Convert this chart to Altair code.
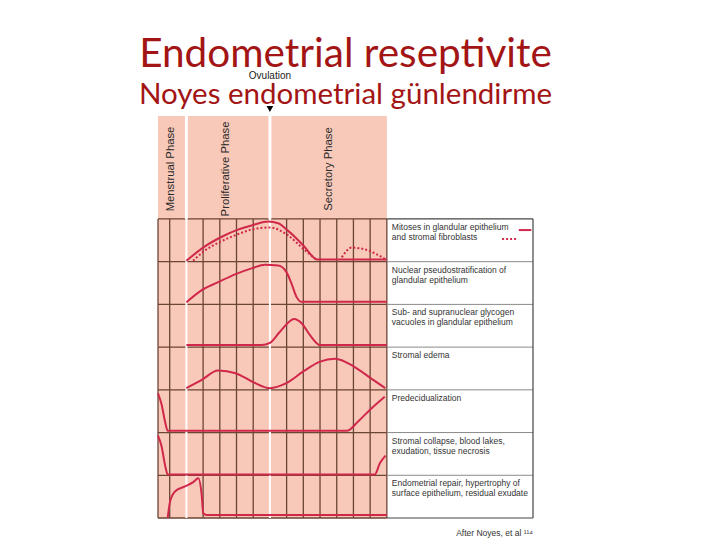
import altair as alt
import pandas as pd

# ---------------- data ----------------
PHASE_NAMES = ["Menstrual Phase", "Proliferative Phase", "Secretory Phase"]
PHASE_LABEL_DAY = [2.2, 8.8, 21.1]
PHASE_BOUNDS = [4, 14]            # menstrual|proliferative, proliferative|secretory (ovulation)
GRID_DAYS = [2, 6, 8, 10, 12, 16, 18, 20, 22, 24, 26]
OVULATION_DAY = 14

ROW_LABELS = [
    "Mitoses in glandular epithelium\nand stromal fibroblasts",
    "Nuclear pseudostratification of\nglandular epithelium",
    "Sub- and supranuclear glycogen\nvacuoles in glandular epithelium",
    "Stromal edema",
    "Predecidualization",
    "Stromal collapse, blood lakes,\nexudation, tissue necrosis",
    "Endometrial repair, hypertrophy of\nsurface epithelium, residual exudate",
]

# curves: (row index, day list, level list 0..1 within the row)
mitoses_glandular_days = [4, 6, 8, 10, 12, 13.8, 15, 16, 17, 18, 19.7, 28]
mitoses_glandular_vals = [0.02, 0.33, 0.56, 0.74, 0.86, 0.94, 0.9, 0.75, 0.58, 0.38, 0.05, 0.05]

mitoses_stromal_days = [4.8, 6, 8, 10, 12, 14, 16, 18, 19.6]
mitoses_stromal_vals = [0.02, 0.23, 0.46, 0.63, 0.76, 0.8, 0.64, 0.3, 0.04]
mitoses_stromal2_days = [22.6, 23.8, 25.8, 27.8]
mitoses_stromal2_vals = [0.1, 0.33, 0.26, 0.06]

nuclear_days = [4, 5.8, 7.8, 9.9, 11.9, 13.4, 15.0, 16.0, 16.6, 17.2, 17.8, 28]
nuclear_vals = [0.05, 0.33, 0.52, 0.71, 0.85, 0.93, 0.91, 0.75, 0.48, 0.17, 0.06, 0.06]

glycogen_days = [4, 13.0, 14, 15.2, 16.9, 17.8, 18.8, 20.0, 28]
glycogen_vals = [0.05, 0.05, 0.1, 0.36, 0.66, 0.56, 0.28, 0.05, 0.05]

edema_days = [4, 5.8, 7.8, 9.9, 11.9, 14, 15.9, 18, 20, 21.8, 24.1, 26.1, 27.8]
edema_vals = [0.04, 0.23, 0.45, 0.39, 0.19, 0.04, 0.15, 0.43, 0.66, 0.73, 0.54, 0.27, 0.04]

predecid_days = [0.6, 1.04, 1.44, 1.76, 23.2, 24.56, 25.96, 27.75]
predecid_vals = [0.92, 0.65, 0.26, 0.04, 0.04, 0.26, 0.53, 0.84]

collapse_days = [0.6, 1.04, 1.44, 1.76, 26.56, 27.16, 27.84]
collapse_vals = [0.93, 0.67, 0.24, 0.02, 0.02, 0.28, 0.46]

repair_days = [1.76, 2.04, 2.63, 3.83, 4.82, 5.42, 5.83, 6.02, 6.42, 28]
repair_vals = [0.0, 0.38, 0.62, 0.74, 0.84, 0.93, 0.54, 0.11, 0.07, 0.07]

SOLID_CURVES = [
    ("mitoses_glandular", 0, mitoses_glandular_days, mitoses_glandular_vals),
    ("nuclear", 1, nuclear_days, nuclear_vals),
    ("glycogen", 2, glycogen_days, glycogen_vals),
    ("edema", 3, edema_days, edema_vals),
    ("predecid", 4, predecid_days, predecid_vals),
    ("collapse", 5, collapse_days, collapse_vals),
    ("repair", 6, repair_days, repair_vals),
]
DOTTED_CURVES = [
    ("mitoses_stromal", 0, mitoses_stromal_days, mitoses_stromal_vals),
    ("mitoses_stromal2", 0, mitoses_stromal2_days, mitoses_stromal2_vals),
]

# ---------------- layout / style ----------------
N_ROWS = 7
DAY_MIN, DAY_MAX = 0.6, 28
PANEL_END = 45.5           # right edge of the label panel on the day scale
TOP = 9.41                 # top of the phase header on the row scale
PINK = "#f8c8b8"
GRID = "#6b4535"
RED = "#d0284a"
TITLE_RED = "#a31515"
TEXT = "#333333"

X = alt.Scale(domain=[DAY_MIN, PANEL_END], nice=False, zero=False)
Y = alt.Scale(domain=[0, TOP], nice=False, zero=False)


def curve_df(curves):
    rows = []
    for name, r, days, vals in curves:
        for i, (d, v) in enumerate(zip(days, vals)):
            rows.append({"series": name, "i": i, "day": d, "y": N_ROWS - 1 - r + v})
    return pd.DataFrame(rows)


def x(f="day"):
    return alt.X(f + ":Q", scale=X, axis=None)


def y(f="y"):
    return alt.Y(f + ":Q", scale=Y, axis=None)


base = alt.Chart(pd.DataFrame({"a": [0]}))

# pink background
bg = alt.Chart(pd.DataFrame({"x0": [DAY_MIN], "x1": [DAY_MAX], "y0": [0], "y1": [TOP]})).mark_rect(
    color=PINK
).encode(x=x("x0"), x2="x1", y=y("y0"), y2="y1")

# label panel background
panel = alt.Chart(pd.DataFrame({"x0": [DAY_MAX], "x1": [PANEL_END], "y0": [0], "y1": [N_ROWS]})).mark_rect(
    color="white"
).encode(x=x("x0"), x2="x1", y=y("y0"), y2="y1")

# vertical grid lines
vgrid = alt.Chart(pd.DataFrame({"d": GRID_DAYS + [DAY_MIN, DAY_MAX], "y0": 0, "y1": N_ROWS})).mark_rule(
    color=GRID, strokeWidth=1.3
).encode(x=x("d"), y=y("y0"), y2="y1")

# white phase separators
white = alt.Chart(pd.DataFrame({"d": PHASE_BOUNDS, "y0": 0, "y1": N_ROWS})).mark_rule(
    color="white", strokeWidth=2
).encode(x=x("d"), y=y("y0"), y2="y1")
white_top = alt.Chart(pd.DataFrame({"d": PHASE_BOUNDS, "y0": N_ROWS, "y1": TOP})).mark_rule(
    color="white", strokeWidth=3
).encode(x=x("d"), y=y("y0"), y2="y1")

# horizontal row lines in grid
hgrid = alt.Chart(pd.DataFrame({"r": list(range(N_ROWS + 1)), "x0": DAY_MIN, "x1": DAY_MAX})).mark_rule(
    color=GRID, strokeWidth=1.3
).encode(y=y("r"), x=x("x0"), x2="x1")

# label panel lines
prow = alt.Chart(pd.DataFrame({"r": list(range(1, N_ROWS)), "x0": DAY_MAX, "x1": PANEL_END})).mark_rule(
    color="#8a8a8a", strokeWidth=1
).encode(y=y("r"), x=x("x0"), x2="x1")
pborder = alt.Chart(pd.DataFrame({"r": [0, N_ROWS], "x0": DAY_MAX, "x1": PANEL_END})).mark_rule(
    color="#444444", strokeWidth=1.2
).encode(y=y("r"), x=x("x0"), x2="x1")
pright = alt.Chart(pd.DataFrame({"d": [PANEL_END], "y0": 0, "y1": N_ROWS})).mark_rule(
    color="#444444", strokeWidth=1.2
).encode(x=x("d"), y=y("y0"), y2="y1")

# curves
solid = alt.Chart(curve_df(SOLID_CURVES)).mark_line(
    color=RED, strokeWidth=2, interpolate="monotone"
).encode(x=x(), y=y(), detail="series:N", order="i:Q")
dotted = alt.Chart(curve_df(DOTTED_CURVES)).mark_line(
    color=RED, strokeWidth=2, strokeDash=[2, 2], interpolate="monotone"
).encode(x=x(), y=y(), detail="series:N", order="i:Q")

# phase labels
phase = alt.Chart(pd.DataFrame({"name": PHASE_NAMES, "d": PHASE_LABEL_DAY, "y": 8.17})).mark_text(
    angle=270, align="center", baseline="middle", font="Liberation Sans", fontSize=11.3, color="#2a2a2a"
).encode(x=x("d"), y=y(), text="name:N")

# row labels
labels = alt.Chart(pd.DataFrame({"t": ROW_LABELS, "r": [N_ROWS - i for i in range(N_ROWS)], "d": DAY_MAX})).mark_text(
    align="left", baseline="alphabetic", dx=5, dy=11, lineBreak="\n", lineHeight=10,
    font="Liberation Sans", fontSize=8.5, color=TEXT
).encode(x=x("d"), y=y("r"), text="t:N")

# legend samples in the first label cell
leg_solid = base.mark_rule(color=RED, strokeWidth=2).encode(
    x=alt.datum(43.8, scale=X), x2=alt.datum(45.3), y=alt.datum(6.74, scale=Y, axis=None)
)
leg_dot = base.mark_rule(color=RED, strokeWidth=2, strokeDash=[2, 2]).encode(
    x=alt.datum(41.8, scale=X), x2=alt.datum(43.5), y=alt.datum(6.53, scale=Y, axis=None)
)

# ovulation marker
ovu_text = base.mark_text(font="Liberation Sans", fontSize=10, color="#222222", dy=-40).encode(
    x=alt.datum(OVULATION_DAY, scale=X), y=alt.datum(TOP, scale=Y), text=alt.value("Ovulation")
)
ovu_arrow = base.mark_point(shape="triangle-down", filled=True, color="black", size=45, opacity=1, yOffset=-7).encode(
    x=alt.datum(OVULATION_DAY, scale=X), y=alt.datum(TOP, scale=Y)
)

source = base.mark_text(font="Liberation Sans", fontSize=8.5, color=TEXT, align="right", dy=15).encode(
    x=alt.datum(PANEL_END, scale=X), y=alt.datum(0, scale=Y), text=alt.value("After Noyes, et al \u00b9\u00b9\u2074")
)

chart = alt.layer(
    bg, panel, vgrid, hgrid, white, white_top, prow, pborder, pright,
    solid, dotted, phase, labels, leg_solid, leg_dot, ovu_text, ovu_arrow, source
).properties(
    width=375, height=402,
    autosize=alt.AutoSizeParams(type="none"),
    padding={"left": 150, "top": 108, "right": 170, "bottom": 22},
    title=alt.TitleParams(
        text="Endometrial reseptivite", subtitle="Noyes endometrial günlendirme",
        font="Lato", fontSize=40.5, fontWeight="normal", color=TITLE_RED,
        subtitleFont="Lato", subtitleFontSize=29.5, subtitleColor=TITLE_RED,
        anchor="middle", frame="group", offset=4, subtitlePadding=5, dy=42,
    ),
).configure_view(stroke=None)

chart.save("out.html", embed_options={"renderer": "svg", "actions": False})
